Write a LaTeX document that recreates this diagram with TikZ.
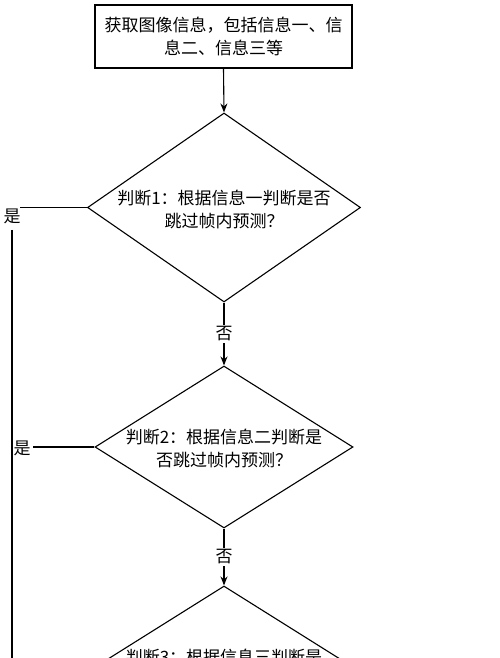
\documentclass[tikz,border=0pt]{standalone}
\usepackage{fontspec}
\setmainfont{Noto Sans CJK SC}
\usetikzlibrary{shapes.geometric,arrows.meta}
\begin{document}
\begin{tikzpicture}[x=1pt,y=-1pt,
  every node/.style={font=\fontsize{17}{22.5}\selectfont},
  flowbox/.style={draw,line width=1.1pt,minimum width=257pt,minimum height=63pt,inner sep=0pt},
  dia/.style={draw,diamond,line width=1.1pt,inner sep=0pt},
  txt/.style={align=center,inner sep=0pt},
  conn/.style={line width=1.1pt},
  arr/.style={line width=1.1pt,-{Stealth[length=9pt,width=7pt]}},
  lbl/.style={fill=white,inner sep=1.5pt}]
\useasboundingbox (0,0) rectangle (500,658);
\node[flowbox] (box) at (223.5,36.5) {};
\node[txt] (boxt) at (box.center) {获取图像信息，包括信息一、信\\息二、信息三等};
\node[dia,minimum width=273pt,minimum height=189pt] (d1) at (224,207.5) {};
\node[txt] (d1t) at (224,209.5) {判断1：根据信息一判断是否\\跳过帧内预测？};
\node[dia,minimum width=258pt,minimum height=162pt] (d2) at (224,447) {};
\node[txt] (d2t) at (224,448.5) {判断2：根据信息二判断是\\否跳过帧内预测？};
\node[dia,minimum width=258pt,minimum height=162pt] (d3) at (224,667) {};
\node[txt] (d3t) at (224,657) {判断3：根据信息三判断是};
\draw[arr] (box.south) -- (d1.north);
\draw[arr] (d1.south) -- node[lbl] (no1) {否} (d2.north);
\draw[arr] (d2.south) -- node[lbl] (no2) {否} (d3.north);
\node[inner sep=0pt] (yes1) at (12,216) {是};
\coordinate (y1end) at (20,207.5);
\draw[conn] (d1.west) -- (y1end);
\coordinate (leftbottom) at (12,660);
\draw[conn] (yes1.south) ++(0,6) -- (leftbottom);
\node[inner sep=0pt] (yes2) at (22,448) {是};
\draw[conn] (d2.west) -- ([xshift=2pt]yes2.east |- d2.west);
\end{tikzpicture}
\end{document}
